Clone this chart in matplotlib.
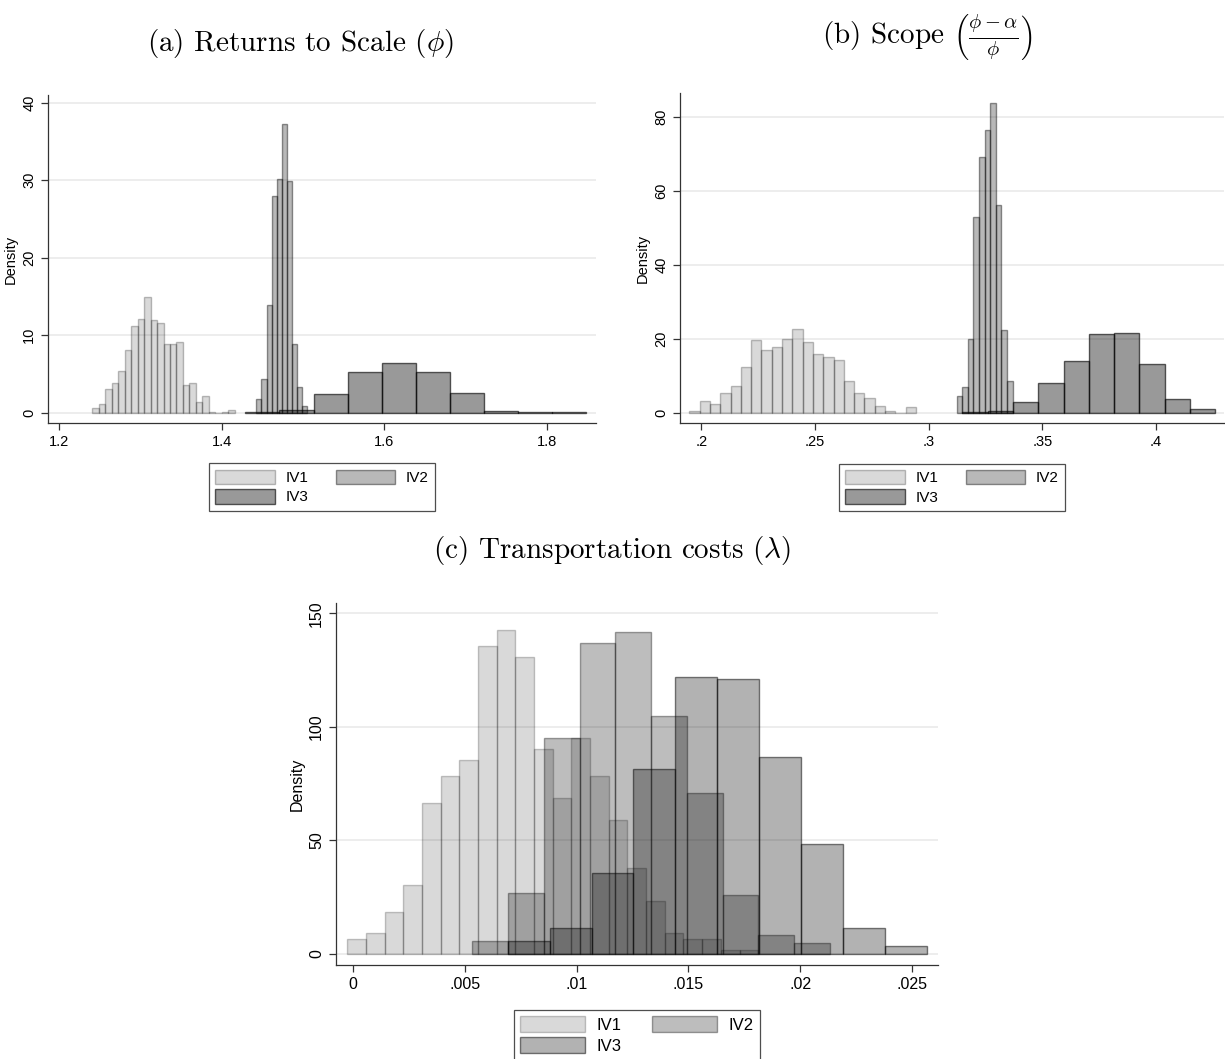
import numpy as np
import matplotlib.pyplot as plt
from matplotlib import rcParams

rcParams['font.family'] = ['Liberation Sans', 'DejaVu Sans']
rcParams['mathtext.fontset'] = 'cm'

# ---- (a) returns to scale: first bin edge, bin width, densities
a_start = [1.2406, 1.4425, 1.4289]
a_width = [0.00797, 0.00628, 0.0420]
a_iv1 = [0.56, 1.12, 3.10, 3.87, 5.38, 8.13, 11.14, 12.13, 14.88, 11.91, 11.61,
         8.86, 8.86, 9.12, 3.61, 3.87, 1.33, 2.11, 0.09, 0.0, 0.09, 0.34]
a_iv2 = [1.76, 4.30, 13.89, 27.96, 30.19, 37.2, 29.89, 8.82, 3.27, 0.86]
a_iv3 = [0.09, 0.34, 2.37, 5.29, 6.45, 5.29, 2.49, 0.26, 0.05, 0.03]

# ---- (b) scope
b_start = [0.19472, 0.31231, 0.31478]
b_width = [0.00453, 0.00246, 0.01113]
b_iv1 = [0.54, 3.15, 2.25, 5.41, 7.12, 12.43, 19.55, 16.85, 17.75, 19.91, 22.52,
         19.01, 15.95, 15.05, 14.14, 8.47, 5.41, 4.05, 1.80, 0.36, 0.0, 1.44]
b_iv2 = [4.5, 7.03, 19.9, 52.97, 69.0, 76.4, 83.6, 56.1, 22.3, 8.56]
b_iv3 = [0.1, 0.45, 2.88, 8.1, 14.05, 21.35, 21.53, 13.15, 3.78, 0.99]

# ---- (c) transportation costs
c_start = [-0.000269, 0.00533, 0.00691]
c_width = [0.000836, 0.0016, 0.001876]
c_iv1 = [6.6, 9.1, 18.6, 30.5, 66.4, 78.3, 85.3, 135.6, 142.7, 130.8, 90.2,
         68.8, 95.2, 78.3, 59.2, 37.7, 23.3, 9.1, 6.6, 6.6, 1.8, 1.8]
c_iv2 = [5.9, 27.0, 95.0, 137.0, 142.0, 104.8, 71.1, 26.0, 8.4, 4.7]
c_iv3 = [5.9, 11.3, 35.8, 81.4, 122.0, 121.0, 86.8, 48.4, 11.3, 3.7]

labels = ['IV1', 'IV2', 'IV3']

# fill / edge alphas of black
ab_face = [0.15, 0.28, 0.40]
ab_edge = [0.25, 0.42, 0.62]
c_face = [0.15, 0.26, 0.30]
c_edge = [0.22, 0.36, 0.50]


def draw_hist(ax, start, width, dens, fa, ea, label):
    left = start + width * np.arange(len(dens))
    return ax.bar(left, dens, width=width, align='edge', color=(0, 0, 0, fa),
                  edgecolor=(0, 0, 0, ea), linewidth=1.0, label=label)


def style_axes(ax, xticks, xlabels, yticks, xlim, ylim, fs, leg_fs, hl):
    ax.set_xlim(xlim)
    ax.set_ylim(ylim)
    ax.set_xticks(xticks)
    ax.set_xticklabels(xlabels)
    ax.set_yticks(yticks)
    ax.tick_params(axis='y', labelrotation=90)
    for t in ax.get_yticklabels():
        t.set_va('center')
    ax.tick_params(labelsize=fs, length=5, width=0.9, color='#333333')
    ax.grid(axis='y', color='#e8e8e8', lw=1.1)
    ax.set_axisbelow(True)
    for s in ['top', 'right']:
        ax.spines[s].set_visible(False)
    for s in ['left', 'bottom']:
        ax.spines[s].set_color('#333333')
        ax.spines[s].set_linewidth(0.9)
    ax.set_ylabel('Density', fontsize=fs, labelpad=3)
    h, l = ax.get_legend_handles_labels()
    order = [0, 2, 1]
    leg = ax.legend([h[i] for i in order], [l[i] for i in order], ncol=2,
                    loc='upper center', bbox_to_anchor=(0.5, -0.1),
                    fontsize=leg_fs, handlelength=hl, handleheight=1.1,
                    handletextpad=0.7, columnspacing=1.8, labelspacing=0.25,
                    borderpad=0.4, fancybox=False, frameon=True)
    leg.get_frame().set_edgecolor('#222222')
    leg.get_frame().set_linewidth(0.9)


fig = plt.figure(figsize=(12.25, 10.59), dpi=100)

ax_a = fig.add_axes([48 / 1225, 1 - 423 / 1059, 548 / 1225, 328 / 1059])
for i, d in enumerate([a_iv1, a_iv2, a_iv3]):
    draw_hist(ax_a, a_start[i], a_width[i], d, ab_face[i], ab_edge[i], labels[i])
style_axes(ax_a, [1.2, 1.4, 1.6, 1.8], ['1.2', '1.4', '1.6', '1.8'],
           [0, 10, 20, 30, 40], (1.1861, 1.8606), (-1.33, 41.0), 10.5, 11, 3.9)

ax_b = fig.add_axes([680 / 1225, 1 - 423 / 1059, 544 / 1225, 330 / 1059])
for i, d in enumerate([b_iv1, b_iv2, b_iv3]):
    draw_hist(ax_b, b_start[i], b_width[i], d, ab_face[i], ab_edge[i], labels[i])
style_axes(ax_b, [0.2, 0.25, 0.3, 0.35, 0.4], ['.2', '.25', '.3', '.35', '.4'],
           [0, 20, 40, 60, 80], (0.19063, 0.42986), (-2.78, 86.4), 10.5, 11, 3.9)

ax_c = fig.add_axes([336 / 1225, 1 - 965 / 1059, 602 / 1225, 362 / 1059])
for i, d in enumerate([c_iv1, c_iv2, c_iv3]):
    draw_hist(ax_c, c_start[i], c_width[i], d, c_face[i], c_edge[i], labels[i])
style_axes(ax_c, [0, 0.005, 0.01, 0.015, 0.02, 0.025],
           ['0', '.005', '.01', '.015', '.02', '.025'],
           [0, 50, 100, 150], (-0.000774, 0.02617), (-4.84, 154.6), 11.5, 12, 3.9)

fig.text(300 / 1225, 1 - 51 / 1059, r'(a) Returns to Scale ($\phi$)',
         family='cmr10', fontsize=21, ha='center', va='baseline')
fig.text(927 / 1225, 1 - 44 / 1059,
         r'(b) Scope $\left(\frac{\phi-\alpha}{\phi}\right)$',
         family='cmr10', fontsize=21, ha='center', va='baseline')
fig.text(612 / 1225, 1 - 558 / 1059, r'(c) Transportation costs ($\lambda$)',
         family='cmr10', fontsize=21, ha='center', va='baseline')

fig.savefig('out.png', dpi=100)
